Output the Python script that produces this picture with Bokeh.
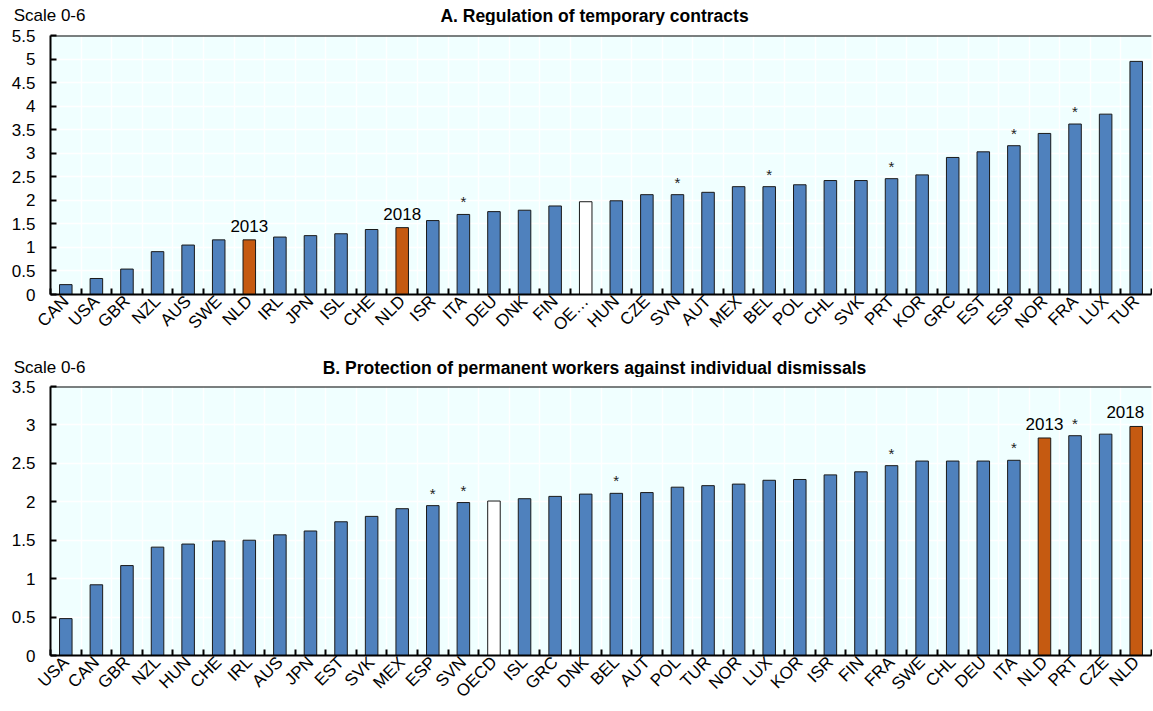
from math import pi
from bokeh.plotting import figure
from bokeh.models import FixedTicker, Span, ColumnDataSource
from bokeh.layouts import column
from bokeh.embed import file_html
from bokeh.resources import INLINE
from bokeh.core.properties import value

# ---------------- data ----------------
a_title = "A. Regulation of temporary contracts"
a_countries = ["CAN", "USA", "GBR", "NZL", "AUS", "SWE", "NLD", "IRL", "JPN", "ISL", "CHE", "NLD",
               "ISR", "ITA", "DEU", "DNK", "FIN", "OE\u2026", "HUN", "CZE", "SVN", "AUT", "MEX", "BEL",
               "POL", "CHL", "SVK", "PRT", "KOR", "GRC", "EST", "ESP", "NOR", "FRA", "LUX", "TUR"]
a_values = [0.21, 0.34, 0.54, 0.91, 1.05, 1.16, 1.16, 1.22, 1.25, 1.29, 1.38, 1.42,
            1.57, 1.70, 1.76, 1.79, 1.88, 1.97, 1.99, 2.12, 2.12, 2.17, 2.29, 2.29,
            2.33, 2.42, 2.42, 2.46, 2.54, 2.91, 3.03, 3.16, 3.42, 3.62, 3.83, 4.95]
a_notes = ["", "", "", "", "", "", "2013", "", "", "", "", "2018",
           "", "*", "", "", "", "", "", "", "*", "", "", "*",
           "", "", "", "*", "", "", "", "*", "", "*", "", ""]

b_title = "B. Protection of permanent workers against individual dismissals"
b_countries = ["USA", "CAN", "GBR", "NZL", "HUN", "CHE", "IRL", "AUS", "JPN", "EST", "SVK", "MEX",
               "ESP", "SVN", "OECD", "ISL", "GRC", "DNK", "BEL", "AUT", "POL", "TUR", "NOR", "LUX",
               "KOR", "ISR", "FIN", "FRA", "SWE", "CHL", "DEU", "ITA", "NLD", "PRT", "CZE", "NLD"]
b_values = [0.48, 0.92, 1.17, 1.41, 1.45, 1.49, 1.50, 1.57, 1.62, 1.74, 1.81, 1.91,
            1.95, 1.99, 2.01, 2.04, 2.07, 2.10, 2.11, 2.12, 2.19, 2.21, 2.23, 2.28,
            2.29, 2.35, 2.39, 2.47, 2.53, 2.53, 2.53, 2.54, 2.83, 2.86, 2.88, 2.98]
b_notes = ["", "", "", "", "", "", "", "", "", "", "", "",
           "*", "*", "", "", "", "", "*", "", "", "", "", "",
           "", "", "", "*", "", "", "", "*", "2013", "*", "", "2018"]

y_label = "Scale 0-6"
a_ymax = 5.5
b_ymax = 3.5

FONT = "Liberation Sans"
BLUE = "#4F81BD"
ORANGE = "#C55A11"
BG = "#F0FFFF"
W = 1152
LEFT = 50
RIGHT = 1


def header(title, height):
    # small strip holding the unit note (as an axis label, which is never clipped) and the title
    h = figure(width=W, height=height, x_range=(LEFT, W - RIGHT), y_range=(0, height),
               output_backend="svg", toolbar_location=None, x_axis_type=None,
               min_border=0, min_border_left=LEFT, min_border_right=RIGHT,
               outline_line_color=None, background_fill_color="white",
               border_fill_color="white")
    h.ygrid.visible = False
    ly = 8.5
    h.yaxis.ticker = FixedTicker(ticks=[ly])
    h.yaxis.major_label_overrides = {ly: y_label}
    h.yaxis.major_label_standoff = -35
    h.yaxis.axis_line_color = None
    h.yaxis.major_tick_line_color = None
    h.yaxis.minor_tick_line_color = None
    h.yaxis.major_tick_in = 0
    h.yaxis.major_tick_out = 0
    h.yaxis.major_label_text_font = FONT
    h.yaxis.major_label_text_font_size = "17px"
    h.yaxis.major_label_text_color = "black"
    h.text(x=[594], y=[0], text=[title], text_align="center", text_baseline="bottom",
           text_font=value(FONT), text_font_size="17.5px", text_font_style="bold",
           text_color="black")
    return h


def panel(cats, vals, notes, ymax, height, btop, bbot):
    n = len(cats)
    xs = list(range(n))
    colors = []
    for c in cats:
        if c == "NLD":
            colors.append(ORANGE)
        elif c.startswith("OE"):
            colors.append("white")
        else:
            colors.append(BLUE)

    p = figure(width=W, height=height, x_range=(-0.5, n - 0.5), y_range=(0, ymax),
               output_backend="svg", toolbar_location=None,
               min_border_left=LEFT, min_border_right=RIGHT, min_border_top=btop,
               min_border_bottom=bbot,
               background_fill_color=BG, border_fill_color="white", outline_line_color=None)

    src = ColumnDataSource(dict(x=xs, top=vals, color=colors))
    p.vbar(x="x", top="top", width=0.41, bottom=0, source=src, fill_color="color",
           line_color="#1a1a1a", line_width=1)

    # x axis: labels at bar centres, ticks between categories
    xt = FixedTicker(ticks=xs, minor_ticks=[i - 0.5 for i in range(n + 1)])
    p.xaxis.ticker = xt
    p.xgrid.ticker = xt
    p.xaxis.major_label_overrides = {i: c for i, c in enumerate(cats)}
    p.xaxis.major_tick_line_color = None
    p.xaxis.major_tick_in = 0
    p.xaxis.major_tick_out = 0
    p.xaxis.minor_tick_in = 6
    p.xaxis.minor_tick_out = 0
    p.xaxis.minor_tick_line_color = "black"
    p.xaxis.minor_tick_line_width = 2
    p.xaxis.axis_line_width = 2
    p.xaxis.axis_line_color = "black"
    p.xaxis.major_label_orientation = pi / 4
    p.xaxis.major_label_text_font = FONT
    p.xaxis.major_label_text_font_size = "17px"
    p.xaxis.major_label_text_color = "black"
    p.xaxis.major_label_standoff = 4
    p.xgrid.grid_line_color = None
    p.xgrid.minor_grid_line_color = "white"
    p.xgrid.minor_grid_line_width = 1.5

    yt_vals = [k * 0.5 for k in range(int(ymax * 2) + 1)]
    yt = FixedTicker(ticks=yt_vals)
    p.yaxis.ticker = yt
    p.ygrid.ticker = yt
    p.yaxis.major_label_overrides = {v: ("%g" % v) for v in yt_vals}
    p.yaxis.major_tick_in = 6
    p.yaxis.major_tick_out = 0
    p.yaxis.major_tick_line_width = 2
    p.yaxis.minor_tick_line_color = None
    p.yaxis.axis_line_width = 2
    p.yaxis.axis_line_color = "black"
    p.yaxis.major_label_text_font = FONT
    p.yaxis.major_label_text_font_size = "17px"
    p.yaxis.major_label_text_color = "black"
    p.yaxis.major_label_standoff = 15
    p.ygrid.grid_line_color = "white"
    p.ygrid.grid_line_width = 1.5

    p.add_layout(Span(location=ymax, dimension="width", line_color="black", line_width=2))

    # annotations
    sx, sy, st = [], [], []
    yx, yy, yt_, ya, yo = [], [], [], [], []
    for i, (v, note) in enumerate(zip(vals, notes)):
        if note == "*":
            sx.append(i); sy.append(v); st.append(note)
        elif note:
            yx.append(i); yy.append(v); yt_.append(note)
            ya.append("right" if i == n - 1 else "center")
            yo.append(8 if i == n - 1 else 0)
    p.text(x=sx, y=sy, text=st, text_align="center", text_baseline="bottom", y_offset=-4,
           text_font=value(FONT), text_font_size="15px", text_color="#222222")
    ysrc = ColumnDataSource(dict(x=yx, y=yy, text=yt_, align=ya, xo=yo))
    p.text(x="x", y="y", text="text", text_align="align", x_offset="xo", source=ysrc,
           text_baseline="bottom", y_offset=-8,
           text_font=value(FONT), text_font_size="17px", text_color="black")
    return p


h1 = header(a_title, 25)
p1 = panel(a_countries, a_values, a_notes, a_ymax, 319, 10, 30)
h2 = header(b_title, 33)
p2 = panel(b_countries, b_values, b_notes, b_ymax, 333, 9, 30)

layout = column(h1, p1, h2, p2, spacing=0)
open("out.html", "w").write(file_html(layout, INLINE))
